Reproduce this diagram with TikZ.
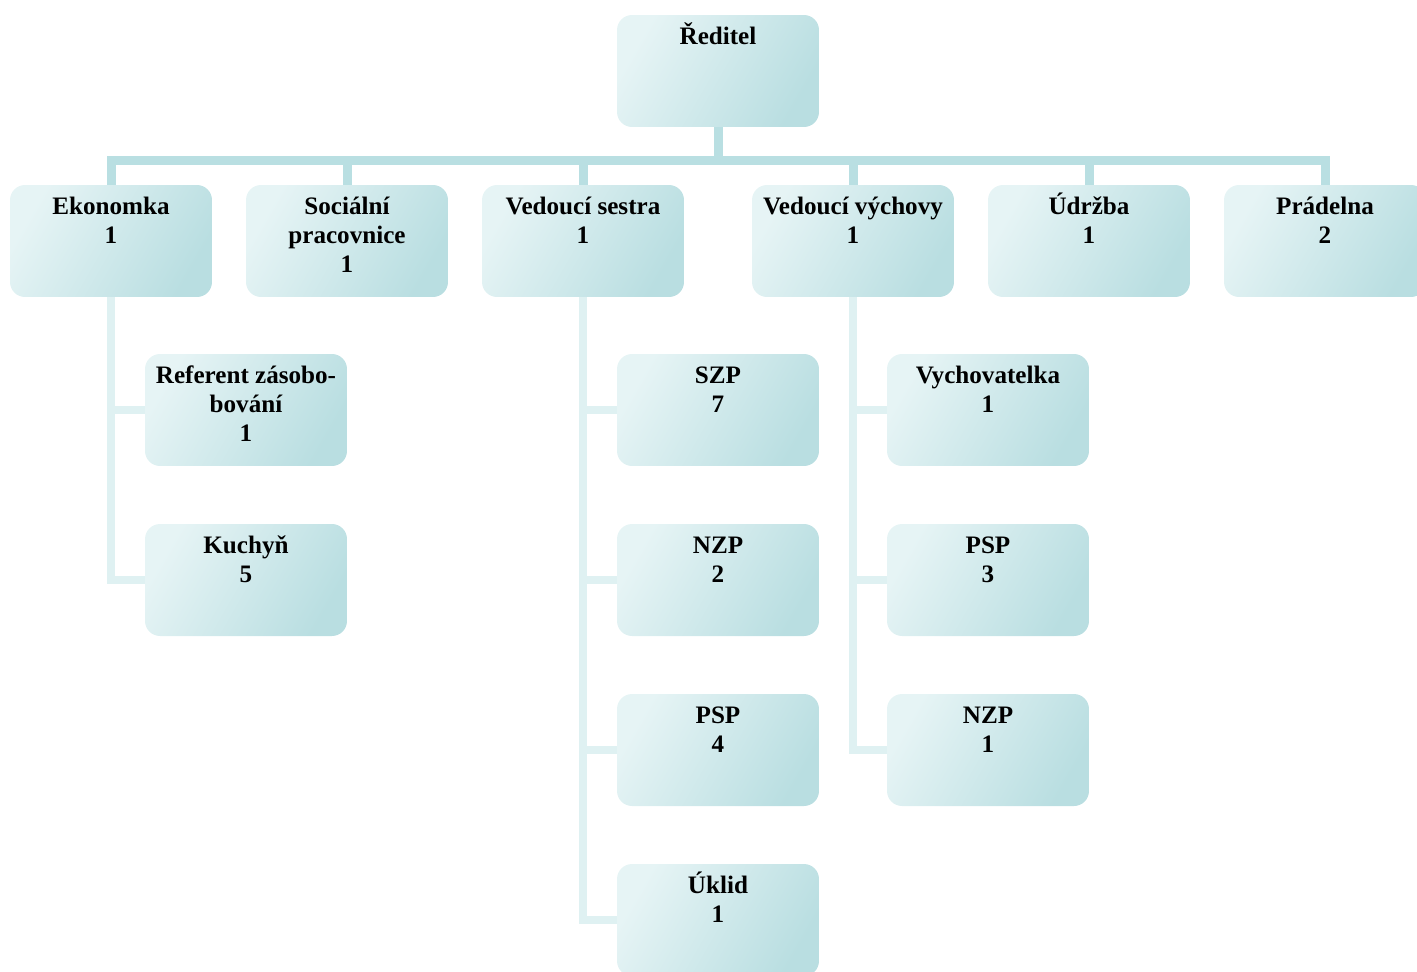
\documentclass[tikz,border=0pt]{standalone}
\usepackage{fontspec}
\setmainfont{Liberation Serif}
\usetikzlibrary{backgrounds}
\definecolor{boxlight}{HTML}{E6F4F5}
\definecolor{boxdark}{HTML}{B9DEE1}
\definecolor{linedark}{HTML}{B9DFE2}
\definecolor{linelight}{HTML}{DFF1F2}

\begin{document}
\begin{tikzpicture}[x=0.02cm,y=-0.02cm,
  dept/.style={rounded corners=0.3cm, minimum width=4.04cm, minimum height=2.24cm,
    inner xsep=0.07cm, inner ysep=0.15cm,
    left color=boxlight, right color=boxdark, shading angle=60,
    font=\fontsize{14.3}{16.5}\selectfont\bfseries,
    execute at begin node={\begin{minipage}[c][1.94cm][t]{3.9cm}\centering\rule{0pt}{12.5pt}},
    execute at end node={\end{minipage}}},
  mainline/.style={line width=0.18cm, draw=linedark},
  subline/.style={line width=0.16cm, draw=linelight}]
\useasboundingbox (0,0) rectangle (1417,971);
\node[dept] (red) at (718,71) {Ředitel};
\node[dept] (ekon) at (111,241) {Ekonomka\\1};
\node[dept] (soc) at (347,241) {Sociální\\pracovnice\\1};
\node[dept] (sestra) at (583,241) {Vedoucí sestra\\1};
\node[dept] (vych) at (853,241) {Vedoucí výchovy\\1};
\node[dept] (udr) at (1089,241) {Údržba\\1};
\node[dept] (prad) at (1325,241) {Prádelna\\2};
% ekonomka
\node[dept] (ref) at (246,410) {Referent zásobo-\\bování\\1};
\node[dept] (kuch) at (246,580) {Kuchyň\\5};
% sestra
\node[dept] (szp) at (718,410) {SZP\\7};
\node[dept] (nzpa) at (718,580) {NZP\\2};
\node[dept] (pspa) at (718,750) {PSP\\4};
\node[dept] (uklid) at (718,920) {Úklid\\1};
% vychova
\node[dept] (vychov) at (988,410) {Vychovatelka\\1};
\node[dept] (pspb) at (988,580) {PSP\\3};
\node[dept] (nzpb) at (988,750) {NZP\\1};
\begin{scope}[on background layer]
\foreach \n in {ekon,soc,sestra,vych,udr,prad}
  \draw[mainline] (red.south) -- ++(0,33) -| (\n.north);
\foreach \n in {ref,kuch}
  \draw[subline] (ekon.south) |- (\n.west);
\foreach \n in {szp,nzpa,pspa,uklid}
  \draw[subline] (sestra.south) |- (\n.west);
\foreach \n in {vychov,pspb,nzpb}
  \draw[subline] (vych.south) |- (\n.west);
\end{scope}
\end{tikzpicture}
\end{document}
